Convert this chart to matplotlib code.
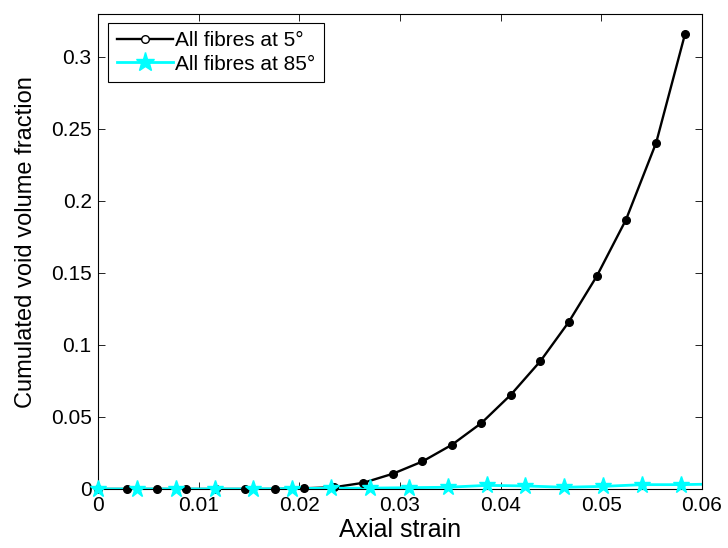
import matplotlib

matplotlib.use("Agg")
import matplotlib.pyplot as plt
from matplotlib.lines import Line2D

plt.rcParams["font.family"] = ["Liberation Sans", "DejaVu Sans"]

# --- data -------------------------------------------------------------------
strain_5 = [0.0, 0.00293, 0.00586, 0.00879, 0.01172, 0.01465, 0.01758, 0.02051,
            0.02344, 0.02637, 0.0293, 0.03223, 0.03516, 0.03809, 0.04102,
            0.04395, 0.04675, 0.04955, 0.05245, 0.05545, 0.0583]
void_5 = [0.0, 0.0, 0.0, 0.0, 0.0, 0.0, 0.0, 0.0005, 0.0012, 0.0043, 0.0106,
          0.0191, 0.0307, 0.0458, 0.0655, 0.0888, 0.1158, 0.1478, 0.1870,
          0.2405, 0.3156]

strain_85 = [0.0, 0.00386, 0.00772, 0.01158, 0.01544, 0.0193, 0.02316, 0.02702,
             0.03088, 0.03474, 0.0386, 0.04246, 0.04632, 0.05018, 0.05404,
             0.0579, 0.06176]
void_85 = [0.0, 0.0, 0.0, 0.0, 0.0, 0.0003, 0.0005, 0.0006, 0.0009, 0.0012,
           0.0025, 0.0021, 0.0012, 0.0018, 0.003, 0.003, 0.0035]

xticks = [0, 0.01, 0.02, 0.03, 0.04, 0.05, 0.06]
xticklabels = ["0", "0.01", "0.02", "0.03", "0.04", "0.05", "0.06"]
yticks = [0, 0.05, 0.1, 0.15, 0.2, 0.25, 0.3]
yticklabels = ["0", "0.05", "0.1", "0.15", "0.2", "0.25", "0.3"]
xmax, ymax = 0.06, 0.33

fig = plt.figure(figsize=(7.28, 5.48), dpi=100)
ax = fig.add_axes([0.1346, 0.1077, 0.8297, 0.8673])

# lines are clipped to the box, markers sitting on y=0 are drawn in full
ax.plot(strain_5, void_5, "-", color="black", lw=1.7)
ax.plot(strain_85, void_85, "-", color="cyan", lw=2.0)
vis5 = [(x, y) for x, y in zip(strain_5, void_5) if x <= xmax]
vis85 = [(x, y) for x, y in zip(strain_85, void_85) if x <= xmax]
ax.plot([p[0] for p in vis5], [p[1] for p in vis5], "o", ms=5.5,
        mfc="black", mec="black", clip_on=False, zorder=3)
ax.plot([p[0] for p in vis85], [p[1] for p in vis85], "*", ms=12.5,
        mfc="cyan", mec="cyan", clip_on=False, zorder=4)

ax.set_xlim(0, xmax)
ax.set_ylim(0, ymax)
ax.set_xticks(xticks)
ax.set_xticklabels(xticklabels)
ax.set_yticks(yticks)
ax.set_yticklabels(yticklabels)
ax.tick_params(direction="in", top=True, right=True, length=5, width=0.6,
               labelsize=15)
ax.tick_params(axis="x", pad=5)
ax.tick_params(axis="y", pad=4.5)
for sp in ax.spines.values():
    sp.set_linewidth(0.8)

ax.set_xlabel("Axial strain", fontsize=18)
ax.set_ylabel("Cumulated void volume fraction", fontsize=17)
ax.xaxis.set_label_coords(0.5, -0.062)
ax.yaxis.set_label_coords(-0.101, 0.52)

handles = [
    Line2D([], [], color="black", lw=1.7, marker="o", ms=5.5,
           mfc="white", mec="black"),
    Line2D([], [], color="cyan", lw=2.0, marker="*", ms=14,
           mfc="cyan", mec="cyan"),
]
leg = ax.legend(handles, ["All fibres at 5°", "All fibres at 85°"],
                loc="upper left", bbox_to_anchor=(0.0162, 0.981),
                borderaxespad=0, fontsize=15, fancybox=False,
                framealpha=1, edgecolor="black", handlelength=2.7,
                handletextpad=0.12, borderpad=0.42, labelspacing=0.2)
leg.get_frame().set_linewidth(0.8)

fig.savefig("out.png", dpi=100)
